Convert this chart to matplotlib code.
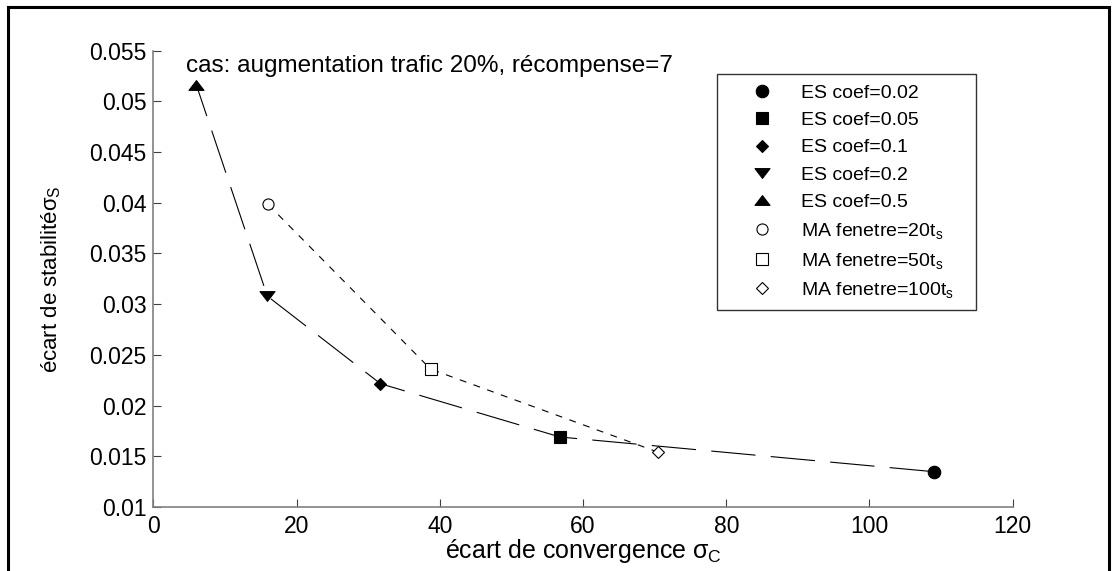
import matplotlib
matplotlib.use('Agg')
import matplotlib.pyplot as plt
from matplotlib.path import Path
from matplotlib.patches import Rectangle

plt.rcParams['font.family'] = ['Liberation Sans', 'DejaVu Sans']
plt.rcParams['mathtext.fontset'] = 'custom'
plt.rcParams['mathtext.rm'] = 'Liberation Sans'
plt.rcParams['mathtext.it'] = 'Liberation Sans'
plt.rcParams['mathtext.bf'] = 'Liberation Sans:bold'
plt.rcParams['lines.scale_dashes'] = False

# ---- données ----
es_coef = ['0.02', '0.05', '0.1', '0.2', '0.5']
es_conv = [109.0, 56.8, 31.7, 15.9, 6.0]
es_stab = [0.01348, 0.0169, 0.02216, 0.0308, 0.0516]

ma_fen = ['20', '50', '100']
ma_conv = [16.0, 38.7, 70.5]
ma_stab = [0.03985, 0.0236, 0.0154]

x_ticks = [0, 20, 40, 60, 80, 100, 120]
y_ticks = [0.01, 0.015, 0.02, 0.025, 0.03, 0.035, 0.04, 0.045, 0.05, 0.055]

# triangles plus larges que hauts (style MATLAB)
tri_up = Path([(-1, -0.65), (1, -0.65), (0, 0.65), (-1, -0.65)], closed=True)
tri_down = Path([(-1, 0.65), (1, 0.65), (0, -0.65), (-1, 0.65)], closed=True)

es_style = [('o', 9), ('s', 8.5), ('D', 6.5), (tri_down, 10.8), (tri_up, 10.8)]
ma_style = [('o', 8), ('s', 8.5), ('D', 6.6)]

fig = plt.figure(figsize=(11.17, 5.71), dpi=100)
ax = fig.add_axes([0.1374, 0.1121, 0.7692, 0.7991])

# courbes
ax.plot(es_conv, es_stab, color='k', lw=0.8, dashes=(32, 11), zorder=2)
ax.plot(ma_conv, ma_stab, color='k', lw=0.8, dashes=(5, 5.5), zorder=2)

for x, y, c, (m, ms) in zip(es_conv, es_stab, es_coef, es_style):
    ax.plot([x], [y], ls='none', marker=m, ms=ms, mfc='k', mec='k', mew=0.8,
            label='ES coef=' + c, zorder=3)
for x, y, f, (m, ms) in zip(ma_conv, ma_stab, ma_fen, ma_style):
    ax.plot([x], [y], ls='none', marker=m, ms=ms, mfc='white', mec='k', mew=0.8,
            label='MA fenetre=' + f + r't$_\mathrm{s}$', zorder=3)

ax.set_xlim(0, 120)
ax.set_ylim(0.01, 0.055)
ax.set_xticks(x_ticks)
ax.set_xticklabels([f'{v:g}' for v in x_ticks])
ax.set_yticks(y_ticks)
ax.set_yticklabels([f'{v:g}' for v in y_ticks])

for s in ['top', 'right']:
    ax.spines[s].set_visible(False)
for s in ['left', 'bottom']:
    ax.spines[s].set_color('#808080')
    ax.spines[s].set_linewidth(1.2)
ax.tick_params(direction='in', length=6, width=0.8, color='#404040',
               labelsize=16.5)
ax.tick_params(axis='x', pad=5.5)
ax.tick_params(axis='y', pad=5)

ax.set_xlabel(r'écart de convergence $\sigma_\mathrm{C}$', fontsize=18)
ax.xaxis.set_label_coords(0.5, -0.066)
ax.set_ylabel(r'écart de stabilité$\sigma_\mathrm{S}$', fontsize=16)
ax.yaxis.set_label_coords(-0.105, 0.5)

ax.text(4.6, 0.0529, 'cas: augmentation trafic 20%, récompense=7',
        fontsize=17.5, va='baseline', ha='left')

leg = ax.legend(loc='upper left', bbox_to_anchor=(0.6555, 0.426, 0.3015, 0.522),
                mode='expand', fontsize=14, frameon=True, fancybox=False,
                borderpad=0.5, handlelength=3.7, handletextpad=0.15,
                labelspacing=0.5, borderaxespad=0)
leg.get_frame().set_edgecolor('k')
leg.get_frame().set_linewidth(1.0)

# cadre autour de la figure
fig.patches.append(Rectangle((8 / 1117, -0.1), 1101 / 1117, 1.1 - 7 / 571,
                             transform=fig.transFigure, fill=False,
                             edgecolor='k', lw=2.2))

fig.savefig('out.png', dpi=100)
